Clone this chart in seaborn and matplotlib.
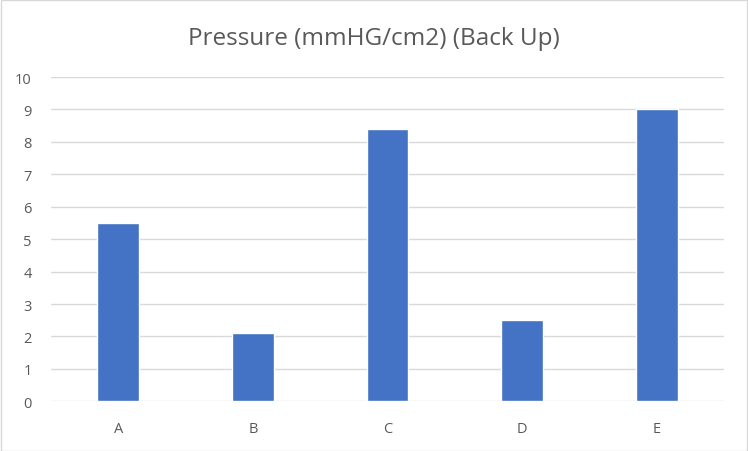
import matplotlib
matplotlib.use("Agg")
import matplotlib.pyplot as plt
import pandas as pd
import seaborn as sns
from matplotlib.patches import Rectangle

# datos del gráfico
categorias = ["A", "B", "C", "D", "E"]
presiones = [5.5, 2.1, 8.4, 2.5, 9.0]
ticks_y = list(range(0, 11))

sns.set_style("white")
plt.rcParams['font.family'] = ['Open Sans', 'DejaVu Sans']

df = pd.DataFrame({"Categoria": categorias, "Presion": presiones})

fig = plt.figure(figsize=(7.48, 4.52), dpi=100)
ax = fig.add_axes([0.0682, 0.110, 0.8998, 0.7174])

sns.barplot(data=df, x="Categoria", y="Presion", color="#4472C4",
            width=0.31, saturation=1, ax=ax, zorder=3)

ax.set_ylim(0, 10)
ax.set_yticks(ticks_y)
ax.set_xlim(-0.5, len(categorias) - 0.5)
ax.yaxis.grid(True, color="#D9D9D9", linewidth=1, zorder=0)
ax.set_axisbelow(True)
for s in ax.spines.values():
    s.set_visible(False)
ax.tick_params(axis="both", length=0, colors="#595959", labelsize=10.5)
ax.tick_params(axis="y", pad=14)
ax.tick_params(axis="x", pad=14)
ax.set_xlabel("")
ax.set_ylabel("")
for lbl in ax.get_yticklabels():
    lbl.set_horizontalalignment("right")

fig.text(0.5, 0.914, "Pressure (mmHG/cm2) (Back Up)", ha="center", va="center",
         fontsize=17.5, color="#595959")

# borde exterior del gráfico
fig.patches.append(Rectangle((0.001, 0.001), 0.998, 0.997, transform=fig.transFigure,
                             fill=False, edgecolor="#D9D9D9", linewidth=1))

fig.savefig("out.png", dpi=100)
